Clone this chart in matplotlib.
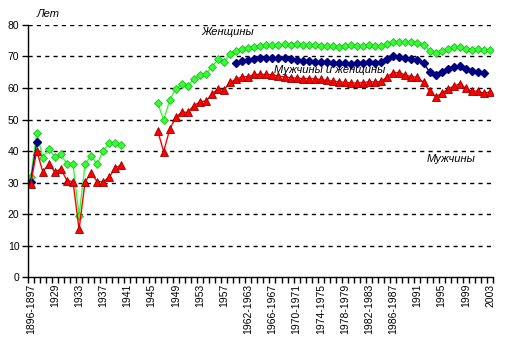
import numpy as np
import matplotlib
matplotlib.use("Agg")
import matplotlib.pyplot as plt

plt.rcParams["font.family"] = ["Liberation Sans", "DejaVu Sans"]

# Categories (period / year)
periods = [
    "1896-1897", "1926-1927", "1927", "1928",
    "1929", "1930", "1931", "1932", "1933", "1934", "1935", "1936", "1937",
    "1938", "1939", "1940", "1941", "1942", "1943", "1944", "1945", "1946",
    "1947", "1948", "1949", "1950", "1951", "1952", "1953", "1954", "1955",
    "1956", "1957",
    "1958-1959", "1960-1961", "1961-1962",
    "1962-1963", "1963-1964", "1964-1965", "1965-1966", "1966-1967",
    "1967-1968", "1968-1969", "1969-1970", "1970-1971", "1971-1972",
    "1972-1973", "1973-1974", "1974-1975", "1975-1976", "1976-1977",
    "1977-1978", "1978-1979", "1979-1980", "1980-1981", "1981-1982",
    "1982-1983", "1983-1984", "1984-1985", "1985-1986", "1986-1987",
    "1988", "1989", "1990",
    "1991", "1992", "1993", "1994", "1995", "1996", "1997", "1998", "1999",
    "2000", "2001", "2002", "2003",
]

N = None
women = [
    31.8, 45.8, 37.9, 40.5, 38.2, 38.9, 35.8, 35.8, 19.5, 35.8, 38.5, 35.8,
    40.1, 42.6, 42.6, 42.0, N, N, N, N, N, 55.3, 49.8, 56.1, 59.8, 61.3,
    60.7, 62.9, 64.1, 64.3, 66.8, 69.1, 68.4, 70.7, 71.8, 72.4, 72.8, 73.1,
    73.4, 73.5, 73.5, 73.6, 73.9, 73.6, 73.9, 73.6, 73.6, 73.6, 73.4, 73.3,
    73.2, 73.1, 73.3, 73.5, 73.3, 73.4, 73.6, 73.4, 73.4, 74.0, 74.7, 74.5,
    74.7, 74.5, 74.2, 73.7, 71.8, 71.2, 71.8, 72.5, 73.1, 73.1, 72.5, 72.1,
    72.3, 72.1, 72.1,
]
men = [
    29.5, 40.1, 33.4, 35.8, 33.4, 34.3, 30.6, 30.3, 15.1, 30.3, 32.9, 30.3,
    30.3, 31.7, 34.7, 35.5, N, N, N, N, N, 46.5, 39.8, 46.9, 50.7, 52.3,
    52.3, 54.4, 55.6, 55.9, 58.0, 59.8, 59.4, 61.8, 62.8, 63.6, 63.6, 64.3,
    64.3, 64.3, 64.2, 63.8, 63.5, 63.3, 63.1, 63.0, 63.0, 62.9, 62.7, 62.4,
    62.2, 62.0, 61.8, 61.6, 61.6, 61.7, 62.0, 61.9, 62.1, 63.6, 64.9, 64.9,
    64.1, 63.6, 63.4, 61.8, 59.0, 57.2, 58.3, 59.6, 60.6, 61.3, 59.9, 59.0,
    59.0, 58.3, 58.8,
]
both = [
    30.3, 42.8, N, N, N, N, N, N, N, N, N, N, N, N, N, N, N, N, N, N, N, N,
    N, N, N, N, N, N, N, N, N, N, N, N, 67.8, 68.7, 68.9, 69.2, 69.6, 69.6,
    69.6, 69.4, 69.4, 69.1, 68.9, 68.7, 68.6, 68.4, 68.4, 68.2, 68.0, 67.8,
    67.8, 67.7, 67.8, 68.0, 68.2, 68.0, 68.1, 69.1, 70.2, 69.8, 69.5, 69.1,
    68.8, 67.9, 65.1, 64.2, 65.0, 65.9, 66.6, 67.0, 65.9, 65.3, 65.2, 64.8, N,
]

x = np.arange(len(periods))
w = np.array(women, dtype=float)
m = np.array(men, dtype=float)
b = np.array(both, dtype=float)

fig = plt.figure(figsize=(5.09, 3.57), dpi=100)
ax = fig.add_axes([0.0544, 0.224, 0.9142, 0.706])

ax.plot(x, w, color="#33FF33", linewidth=1, marker="D", markersize=4.3,
        markerfacecolor="#33FF33", markeredgecolor="#22BB22", markeredgewidth=0.6)
ax.plot(x, b, color="#000080", linewidth=1, marker="D", markersize=4.5,
        markerfacecolor="#000080", markeredgecolor="#000080")
ax.plot(x, m, color="#FF0000", linewidth=1, marker="^", markersize=5.5,
        markerfacecolor="#FF0000", markeredgecolor="#990000", markeredgewidth=0.6)

ax.set_xlim(-0.5, len(periods) - 0.5)
ax.set_ylim(0, 80)
ax.set_yticks(range(0, 81, 10))
ax.tick_params(axis="y", direction="out", length=4, width=1, labelsize=7.5, pad=2)

# tick marks between categories, labels every 4th category
ax.set_xticks(np.arange(-0.5, len(periods), 1), minor=False)
ax.set_xticklabels([])
ax.set_xticks(x[::4], minor=True)
ax.set_xticklabels([periods[i] for i in x[::4]], minor=True, rotation=90, fontsize=7.5)
ax.tick_params(axis="x", which="major", direction="out", length=4, width=1)
ax.tick_params(axis="x", which="minor", length=0, pad=5)

for yv in range(10, 81, 10):
    ax.axhline(yv, color="black", linestyle=(0, (3, 3)), linewidth=1, zorder=0)

for s in ["top", "right"]:
    ax.spines[s].set_visible(False)
ax.spines["left"].set_linewidth(1)
ax.spines["bottom"].set_linewidth(1)

ax.text(32.6, 77.8, "Женщины", style="italic", fontsize=8, ha="center", va="center")
ax.text(49.5, 65.7, "Мужчины и женщины", style="italic", fontsize=8, ha="center", va="center")
ax.text(69.6, 37.5, "Мужчины", style="italic", fontsize=8, ha="center", va="center")
fig.text(0.094, 0.961, "Лет", style="italic", fontsize=8, ha="center", va="center")

fig.savefig("out.png", dpi=100)
